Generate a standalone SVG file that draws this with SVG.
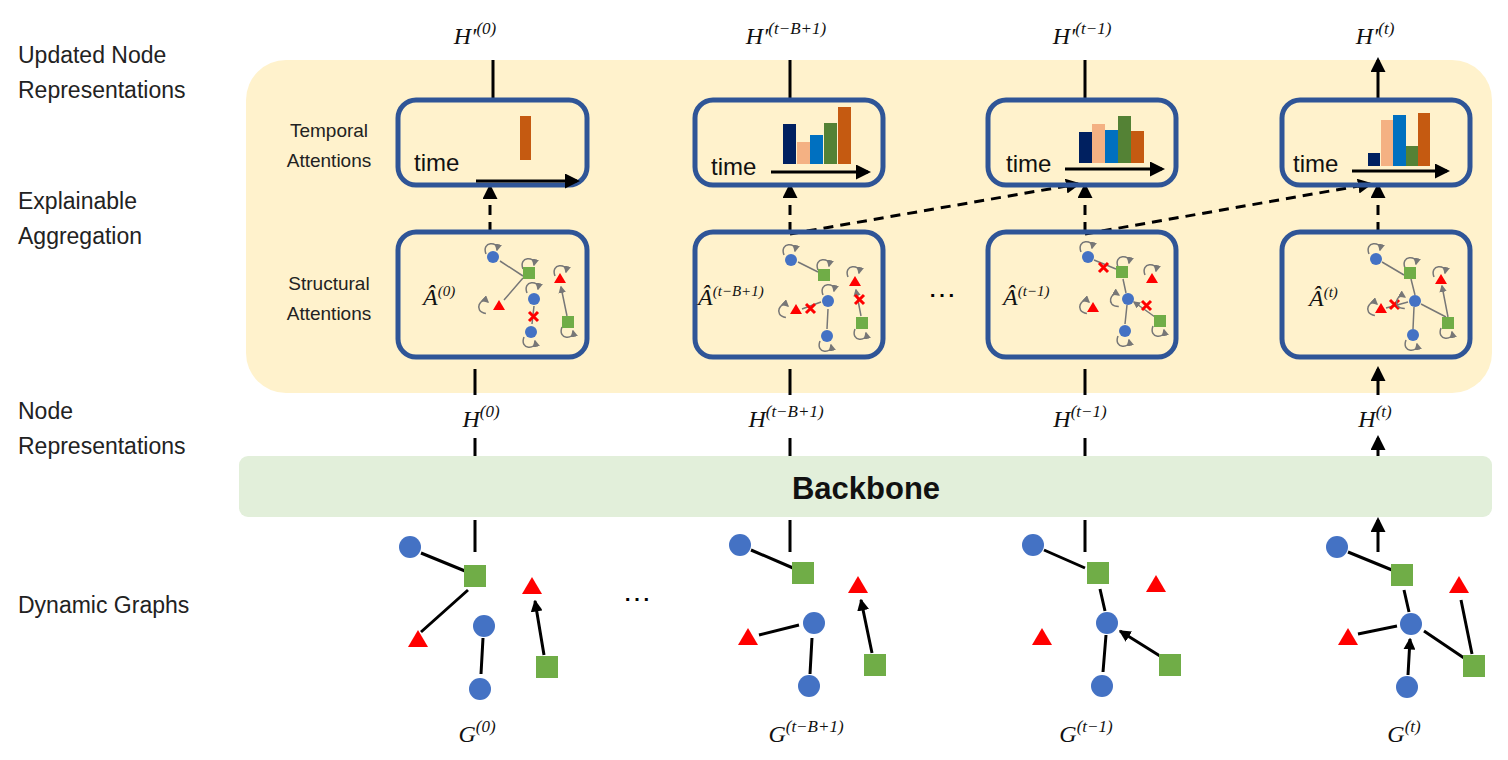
<svg xmlns="http://www.w3.org/2000/svg" width="1508" height="760" viewBox="0 0 1508 760">
<style>
.lbl{font-family:"Liberation Sans",Arial,sans-serif;font-size:23px;fill:#222}
.sm{font-family:"Liberation Sans",Arial,sans-serif;font-size:19px;fill:#222;text-anchor:middle}
.m{font-family:"Liberation Serif","DejaVu Serif",serif;font-style:italic;font-size:24px;fill:#111}
.box{fill:none;stroke:#2F5597;stroke-width:5}
.ar{stroke:#000;stroke-width:3;fill:none;marker-end:url(#ah)}
.da{stroke:#000;stroke-width:3;fill:none;stroke-dasharray:10,7;marker-end:url(#ah)}
.ge{stroke:#000;stroke-width:3;fill:none;marker-end:url(#gh)}
.se{stroke:#777;stroke-width:1.5;fill:none;marker-end:url(#sh)}
.c{fill:#4472C4}.s{fill:#70AD47}.t{fill:#FF0000}
.x{stroke:#FF0000;stroke-width:3}
.time{font-family:"Liberation Sans",Arial,sans-serif;font-size:24px;fill:#111}
</style>
<defs>
<marker id="ah" markerWidth="5" markerHeight="5" refX="4" refY="2.5" orient="auto"><path d="M0,0L5,2.5L0,5z"/></marker>
<marker id="gh" markerWidth="4" markerHeight="4" refX="3.5" refY="2" orient="auto"><path d="M0,0L4,2L0,4z"/></marker>
<marker id="sh" markerWidth="5" markerHeight="5" refX="4" refY="2.5" orient="auto"><path d="M0,0L5,2.5L0,5z" fill="#777"/></marker>
<path id="lp" d="M-7,-3 C-12,-16 6,-16 4,-7" stroke="#777" stroke-width="1.5" fill="none" marker-end="url(#sh)"/>
<path id="lpd" d="M-7,3 C-12,16 6,16 4,7" stroke="#777" stroke-width="1.5" fill="none" marker-end="url(#sh)"/>
</defs>
<rect x="246" y="60" width="1246" height="333" rx="40" fill="#FFF2CC"/>
<rect x="239" y="456" width="1253" height="61" rx="9" fill="#E2EFDA"/>
<text x="866" y="499" text-anchor="middle" font-family="Liberation Sans,Arial,sans-serif" font-weight="bold" font-size="31" fill="#111">Backbone</text>

<text class="lbl" x="18" y="63">Updated Node</text>
<text class="lbl" x="18" y="98">Representations</text>
<text class="lbl" x="18" y="209">Explainable</text>
<text class="lbl" x="18" y="244">Aggregation</text>
<text class="lbl" x="18" y="419">Node</text>
<text class="lbl" x="18" y="454">Representations</text>
<text class="lbl" x="18" y="613">Dynamic Graphs</text>
<text class="sm" x="329" y="137">Temporal</text>
<text class="sm" x="329" y="167">Attentions</text>
<text class="sm" x="329" y="290">Structural</text>
<text class="sm" x="329" y="320">Attentions</text>

<g id="connectors">
<path class="ar" d="M493,100V60M790,100V60M1085,100V60M1378,100V60"/>
<path class="ar" d="M475,395V369M790,395V369M1085,395V369M1378,395V369"/>
<path class="ar" d="M475,456V438M790,456V438M1085,456V438M1378,456V438"/>
<path class="ar" d="M475,552V520M790,552V520M1085,552V520M1378,552V520"/>
<path class="da" d="M490,232V187"/>
<path class="da" d="M790,232V186"/>
<path class="da" d="M790,234L1078,184"/>
<path class="da" d="M1085,232V186"/>
<path class="da" d="M1085,234L1370,184"/>
<path class="da" d="M1378,232V186"/>
</g>

<g id="labels">
<text class="m" x="475" y="44" text-anchor="middle">H′<tspan font-size="17" dy="-10">(0)</tspan></text>
<text class="m" x="786" y="44" text-anchor="middle">H′<tspan font-size="17" dy="-10">(t−B+1)</tspan></text>
<text class="m" x="1082" y="44" text-anchor="middle">H′<tspan font-size="17" dy="-10">(t−1)</tspan></text>
<text class="m" x="1375" y="44" text-anchor="middle">H′<tspan font-size="17" dy="-10">(t)</tspan></text>
<text class="m" x="481" y="427" text-anchor="middle">H<tspan font-size="17" dy="-10">(0)</tspan></text>
<text class="m" x="786" y="427" text-anchor="middle">H<tspan font-size="17" dy="-10">(t−B+1)</tspan></text>
<text class="m" x="1080" y="427" text-anchor="middle">H<tspan font-size="17" dy="-10">(t−1)</tspan></text>
<text class="m" x="1375" y="427" text-anchor="middle">H<tspan font-size="17" dy="-10">(t)</tspan></text>
<text class="m" x="477" y="742" text-anchor="middle">G<tspan font-size="17" dy="-10">(0)</tspan></text>
<text class="m" x="806" y="742" text-anchor="middle">G<tspan font-size="17" dy="-10">(t−B+1)</tspan></text>
<text class="m" x="1086" y="742" text-anchor="middle">G<tspan font-size="17" dy="-10">(t−1)</tspan></text>
<text class="m" x="1404" y="742" text-anchor="middle">G<tspan font-size="17" dy="-10">(t)</tspan></text>
<text x="637" y="608" font-family="Liberation Sans,sans-serif" font-size="28" text-anchor="middle">⋯</text>
<text x="942" y="304" font-family="Liberation Sans,sans-serif" font-size="28" text-anchor="middle">⋯</text>
</g>

<g id="temporal-0"><rect class="box" x="398" y="100" width="189" height="85" rx="18"/>
<rect x="520" y="116" width="11" height="44" fill="#C55A11"/>
<text class="time" x="414" y="171">time</text><path class="ar" d="M476,181H577"/></g>
<g id="temporal-1"><rect class="box" x="695" y="100" width="188" height="85" rx="18"/>
<rect x="783" y="124" width="13" height="40" fill="#002060"/><rect x="797" y="142" width="13" height="22" fill="#F4B183"/><rect x="810" y="135" width="13" height="29" fill="#0070C0"/><rect x="824" y="123" width="13" height="41" fill="#548235"/><rect x="838" y="107" width="13" height="57" fill="#C55A11"/>
<text class="time" x="711" y="175">time</text><path class="ar" d="M771,172H868"/></g>
<g id="temporal-2"><rect class="box" x="988" y="100" width="188" height="85" rx="18"/>
<rect x="1079" y="132" width="13" height="31" fill="#002060"/><rect x="1092" y="124" width="13" height="39" fill="#F4B183"/><rect x="1105" y="130" width="13" height="33" fill="#0070C0"/><rect x="1118" y="116" width="13" height="47" fill="#548235"/><rect x="1131" y="131" width="13" height="32" fill="#C55A11"/>
<text class="time" x="1006" y="172">time</text><path class="ar" d="M1065,169H1162"/></g>
<g id="temporal-3"><rect class="box" x="1282" y="100" width="188" height="85" rx="18"/>
<rect x="1368" y="153" width="12" height="13" fill="#002060"/><rect x="1381" y="120" width="12" height="46" fill="#F4B183"/><rect x="1393" y="115" width="13" height="51" fill="#0070C0"/><rect x="1406" y="146" width="12" height="20" fill="#548235"/><rect x="1418" y="113" width="12" height="53" fill="#C55A11"/>
<text class="time" x="1293" y="172">time</text><path class="ar" d="M1352,171H1447"/></g>

<g id="structural-0"><rect class="box" x="398" y="232" width="189" height="125" rx="18"/>
<text class="m" x="423" y="305" font-size="22">Â<tspan font-size="15" dy="-9">(0)</tspan></text>
<path class="se" d="M523,276L500,261M523,278L504,300M534,306L532,324M567,316L561,287"/>
<path class="x" d="M529,312l9,9m0,-9l-9,9"/>
<use href="#lp" x="493" y="257"/><use href="#lp" x="530" y="272"/><use href="#lp" x="562" y="279"/><use href="#lp" x="534" y="296"/><use href="#lpd" x="531" y="334"/><use href="#lpd" x="569" y="324"/><use href="#lp" x="492" y="309" transform="rotate(-60 492 309)"/>
<circle class="c" cx="493" cy="257" r="6"/><rect class="s" x="523" y="267" width="12" height="12"/><path class="t" d="M499,300l6,10h-12z"/><circle class="c" cx="534" cy="299" r="6"/><circle class="c" cx="531" cy="332" r="6"/><path class="t" d="M560,273l6,10h-12z"/><rect class="s" x="562" y="316" width="12" height="12"/></g>

<g id="structural-1"><rect class="box" x="695" y="232" width="188" height="125" rx="18"/>
<text class="m" x="698" y="305" font-size="22">Â<tspan font-size="15" dy="-9">(t−B+1)</tspan></text>
<path class="se" d="M818,272L798,262M802,309L821,302M827,329L828,309M861,316L856,290"/>
<path class="x" d="M806,304l9,9m0,-9l-9,9M855,295l9,9m0,-9l-9,9"/>
<use href="#lp" x="791" y="258"/><use href="#lp" x="825" y="273"/><use href="#lp" x="855" y="280"/><use href="#lp" x="830" y="298"/><use href="#lpd" x="827" y="338"/><use href="#lpd" x="862" y="326"/><use href="#lp" x="792" y="313" transform="rotate(-60 792 313)"/>
<circle class="c" cx="791" cy="260" r="6"/><rect class="s" x="818" y="269" width="12" height="12"/><path class="t" d="M796,304l6,10h-12z"/><circle class="c" cx="828" cy="301" r="6"/><circle class="c" cx="827" cy="336" r="6"/><path class="t" d="M855,276l6,10h-12z"/><rect class="s" x="856" y="317" width="12" height="12"/></g>

<g id="structural-2"><rect class="box" x="988" y="232" width="188" height="125" rx="18"/>
<text class="m" x="1003" y="305" font-size="22">Â<tspan font-size="15" dy="-9">(t−1)</tspan></text>
<path class="se" d="M1094,260L1116,269M1126,293L1123,279M1127,305L1125,324M1155,317L1134,302"/>
<path class="x" d="M1099,263l9,9m0,-9l-9,9M1142,301l9,9m0,-9l-9,9"/>
<use href="#lp" x="1088" y="255"/><use href="#lp" x="1125" y="270"/><use href="#lp" x="1152" y="278"/><use href="#lp" x="1093" y="309" transform="rotate(-60 1093 309)"/><use href="#lp" x="1124" y="301" transform="rotate(-70 1124 301)"/><use href="#lpd" x="1125" y="333"/><use href="#lpd" x="1160" y="323"/>
<circle class="c" cx="1088" cy="257" r="6"/><rect class="s" x="1116" y="266" width="12" height="12"/><path class="t" d="M1152,273l6,10h-12z"/><path class="t" d="M1093,302l6,10h-12z"/><circle class="c" cx="1128" cy="299" r="6"/><circle class="c" cx="1125" cy="331" r="6"/><rect class="s" x="1154" y="315" width="12" height="12"/></g>

<g id="structural-3"><rect class="box" x="1282" y="232" width="188" height="125" rx="18"/>
<text class="m" x="1309" y="306" font-size="22">Â<tspan font-size="15" dy="-9">(t)</tspan></text>
<path class="se" d="M1404,275L1382,262M1415,295L1411,279M1386,308L1408,302M1413,329L1414,307M1446,317L1421,304M1448,317L1442,286"/>
<path class="x" d="M1390,300l9,9m0,-9l-9,9"/>
<use href="#lp" x="1376" y="257"/><use href="#lp" x="1412" y="271"/><use href="#lp" x="1441" y="280"/><use href="#lp" x="1381" y="311" transform="rotate(-60 1381 311)"/><use href="#lp" x="1410" y="303" transform="rotate(-70 1410 303)"/><use href="#lpd" x="1413" y="337"/><use href="#lpd" x="1448" y="325"/>
<circle class="c" cx="1376" cy="259" r="6"/><rect class="s" x="1404" y="267" width="12" height="12"/><path class="t" d="M1441,274l6,10h-12z"/><path class="t" d="M1381,303l6,10h-12z"/><circle class="c" cx="1415" cy="301" r="6"/><circle class="c" cx="1413" cy="335" r="6"/><rect class="s" x="1442" y="317" width="12" height="12"/></g>

<g id="graph-0">
<path class="ge" d="M465,571L421,553M421,632L468,590M483,638L481,674M544,655L535,601"/>
<circle class="c" cx="410" cy="547" r="11"/><rect class="s" x="464" y="565" width="22" height="22"/><path class="t" d="M532,577l10,17h-20z"/><path class="t" d="M418,630l10,17h-20z"/><circle class="c" cx="484" cy="626" r="11"/><circle class="c" cx="480" cy="689" r="11"/><rect class="s" x="536" y="656" width="22" height="22"/></g>
<g id="graph-1">
<path class="ge" d="M793,568L751,550M759,635L799,625M810,674L812,638M872,653L861,600"/>
<circle class="c" cx="740" cy="545" r="11"/><rect class="s" x="792" y="562" width="22" height="22"/><path class="t" d="M858,576l10,17h-20z"/><path class="t" d="M748,628l10,17h-20z"/><circle class="c" cx="814" cy="623" r="11"/><circle class="c" cx="809" cy="686" r="11"/><rect class="s" x="864" y="654" width="22" height="22"/></g>
<g id="graph-2">
<path class="ge" d="M1044,550L1085,568M1105,611L1100,589M1106,635L1103,672M1160,656L1120,631"/>
<circle class="c" cx="1033" cy="545" r="11"/><rect class="s" x="1087" y="562" width="22" height="22"/><path class="t" d="M1156,575l10,17h-20z"/><path class="t" d="M1042,628l10,17h-20z"/><circle class="c" cx="1107" cy="623" r="11"/><circle class="c" cx="1102" cy="686" r="11"/><rect class="s" x="1159" y="654" width="22" height="22"/></g>
<g id="graph-3">
<path class="ge" d="M1392,570L1348,552M1409,612L1404,590M1358,634L1397,626M1464,658L1424,631M1472,654L1461,600M1408,675L1410,639"/>
<circle class="c" cx="1337" cy="547" r="11"/><rect class="s" x="1391" y="564" width="22" height="22"/><path class="t" d="M1459,576l10,17h-20z"/><path class="t" d="M1348,628l10,17h-20z"/><circle class="c" cx="1411" cy="624" r="11"/><circle class="c" cx="1407" cy="687" r="11"/><rect class="s" x="1463" y="655" width="22" height="22"/></g>
</svg>
